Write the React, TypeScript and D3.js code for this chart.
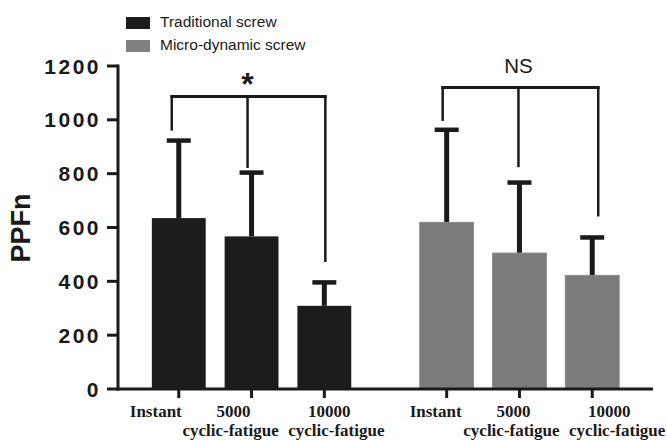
import React from 'react'
import * as d3 from 'd3'

const groups = ['Traditional screw', 'Micro-dynamic screw']
const conditions = ['Instant', '5000 cyclic-fatigue', '10000 cyclic-fatigue']
const tickLine1 = ['Instant', '5000', '10000']
const tickLine2 = ['', 'cyclic-fatigue', 'cyclic-fatigue']
const traditionalMeans = [635, 567, 309]
const traditionalSD = [288, 237, 87]
const microMeans = [619, 505, 422]
const microSD = [344, 262, 141]
const yTicks = [0, 200, 400, 600, 800, 1000, 1200]
// significance brackets: level of the horizontal line and where each drop ends
const bracketLevels = [1087, 1120]
const traditionalDropEnds = [960, 821, 472]
const microDropEnds = [996, 824, 641]
const significance = ['*', 'NS']

const W = 667
const H = 441
const groupColors = ['#1c1c1c', '#7b7b7b']
const ink = '#1a1a1a'
const serif = 'Liberation Serif, Times New Roman, serif'
const sans = 'Liberation Sans, Arial, sans-serif'

export default function App() {
  const y = d3.scaleLinear().domain([0, 1200]).range([389, 66])
  const xGroup = d3.scaleBand<string>().domain(groups).range([118, 653])
    .paddingInner(0.185).paddingOuter(0.091)
  const xCond = d3.scaleBand<string>().domain(conditions).range([0, xGroup.bandwidth()])
    .paddingInner(0.26).paddingOuter(0.13)

  const means = [traditionalMeans, microMeans]
  const sds = [traditionalSD, microSD]
  const drops = [traditionalDropEnds, microDropEnds]
  // hand offsets copied from the figure's slightly irregular layout
  const dropShift = [[-7, -4, 1], [-4, -1, 6]]
  const line1Shift = [[-23, -18, 5], [-11, -6, 17]]
  const line2Shift = [[0, -21, 12], [0, -8, 25]]

  const cx = (gi: number, ci: number) =>
    (xGroup(groups[gi]) ?? 0) + (xCond(conditions[ci]) ?? 0) + xCond.bandwidth() / 2

  return (
    <svg width={W} height={H} style={{ position: 'absolute', left: 0, top: 0, background: '#fff' }}>
      {/* legend */}
      {groups.map((g, i) => (
        <g key={g} transform={`translate(126,${17 + i * 23})`}>
          <rect width={24} height={12} fill={i === 0 ? '#1c1c1c' : '#808080'} />
          <text x={34} y={10} fontFamily={sans} fontSize={15.5} fill={ink}>{g}</text>
        </g>
      ))}

      {/* y axis */}
      <line x1={118} x2={118} y1={y(1200) - 1.5} y2={y(0) + 1.5} stroke={ink} strokeWidth={3} />
      {yTicks.map(t => (
        <g key={t}>
          <line x1={107} x2={118} y1={y(t)} y2={y(t)} stroke={ink} strokeWidth={3} />
          <text x={101} y={y(t)} dy="0.36em" textAnchor="end" fontFamily={sans}
            fontWeight="bold" fontSize={21} letterSpacing={2.5} fill={ink}>{t}</text>
        </g>
      ))}
      <text transform={`translate(30,228) rotate(-90)`} textAnchor="middle" fontFamily={sans}
        fontWeight="bold" fontSize={27} fill={ink}>PPFn</text>

      {/* bars + error bars */}
      {groups.map((g, gi) => conditions.map((c, ci) => {
        const x0 = (xGroup(g) ?? 0) + (xCond(c) ?? 0)
        const m = means[gi][ci]
        const top = y(m + sds[gi][ci])
        const mid = cx(gi, ci)
        return (
          <g key={g + c}>
            <line x1={mid} x2={mid} y1={y(m)} y2={top} stroke={ink} strokeWidth={5} />
            <line x1={mid - 12} x2={mid + 12} y1={top} y2={top} stroke={ink} strokeWidth={4.5} />
            <rect x={x0} y={y(m)} width={xCond.bandwidth()} height={y(0) - y(m)} fill={groupColors[gi]}
              stroke={gi === 1 ? '#8a8a8a' : 'none'} strokeWidth={1} />
          </g>
        )
      }))}

      {/* x axis */}
      <line x1={116.5} x2={653} y1={y(0)} y2={y(0)} stroke={ink} strokeWidth={3} />
      {groups.map((g, gi) => conditions.map((c, ci) => {
        const mid = cx(gi, ci)
        return (
          <g key={'t' + g + c}>
            <line x1={mid} x2={mid} y1={y(0)} y2={y(0) + 9} stroke={ink} strokeWidth={3} />
            <text x={mid + line1Shift[gi][ci]} y={416.5} textAnchor="middle" fontFamily={serif}
              fontWeight="bold" fontSize={17} fill={ink}>{tickLine1[ci]}</text>
            {tickLine2[ci] && (
              <text x={mid + line2Shift[gi][ci]} y={436} textAnchor="middle" fontFamily={serif}
                fontWeight="bold" fontSize={17} fill={ink}>{tickLine2[ci]}</text>
            )}
          </g>
        )
      }))}

      {/* significance brackets */}
      {groups.map((g, gi) => {
        const level = y(bracketLevels[gi])
        const xs = conditions.map((_, ci) => cx(gi, ci) + dropShift[gi][ci])
        return (
          <g key={'b' + g}>
            <line x1={xs[0] - 1.5} x2={xs[2] + 1.5} y1={level} y2={level} stroke={ink} strokeWidth={3} />
            {xs.map((xx, ci) => (
              <line key={ci} x1={xx} x2={xx} y1={level} y2={y(drops[gi][ci])} stroke={ink} strokeWidth={2.5} />
            ))}
            <text x={xs[1]} y={gi === 0 ? level - 1 : level - 15} textAnchor="middle"
              fontFamily={sans} fontWeight={gi === 0 ? 'bold' : 'normal'}
              fontSize={gi === 0 ? 32 : 20.5} fill={ink}>{significance[gi]}</text>
          </g>
        )
      })}
    </svg>
  )
}
